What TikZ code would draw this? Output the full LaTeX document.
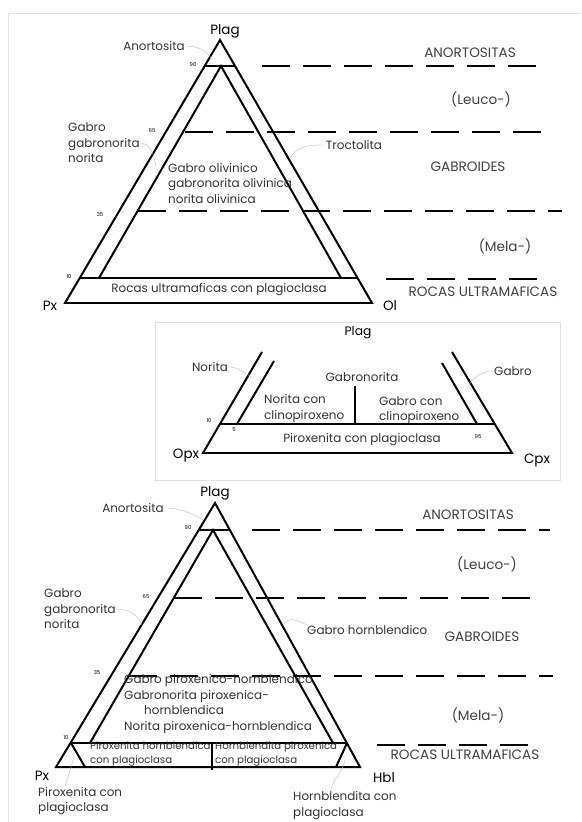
\documentclass[tikz,border=0pt]{standalone}
\usepackage{fontspec}
\setmainfont{Poppins}

\begin{document}
\begin{tikzpicture}[x=0.03cm, y=-0.03cm,
	side/.style={line width=1.7pt, line join=miter},
	limit/.style={line width=1.7pt, dash pattern=on 24pt off 11pt},
	lead/.style={gray!55, line width=0.3pt},
	num/.style={font=\fontsize{4.5}{5}\selectfont, inner sep=0pt},
	lbl/.style={font=\fontsize{10.2}{13.2}\selectfont, inner sep=0pt, align=left, text=black!80},
	band/.style={font=\fontsize{8.7}{12}\selectfont, inner sep=0pt, align=left, text=black!80},
	zone/.style={font=\fontsize{11.6}{13}\selectfont, inner sep=0pt, text=black!75},
	vert/.style={font=\fontsize{11.5}{13}\selectfont, inner sep=0pt},
]
	\useasboundingbox (0,0) rectangle (581,822);
	\draw [gray!20, line width=0.8pt] (581,13) -- (8,13) -- (8,822);

	% Px - Plag - Ol
	\coordinate (plagA) at (220,40);
	\coordinate (pxA) at (65,303);
	\coordinate (olA) at (372,303);
	\draw [side] (pxA) -- (plagA) -- (olA) -- cycle;
	\draw [side] (99,278) -- (221,66) -- (341,278);
	\draw [side] (205,66) -- (235,66);
	\draw [side] (80,278) -- (357,278);
	\draw [limit] (262,66) -- (545,66);
	\draw [limit] (185,132) -- (547,132);
	\draw [limit] (138,211) -- (562,211);
	\draw [limit] (386,279) -- (541,279);
	\node [vert] (plagAl) at (225,31) {Plag};
	\node [vert] (pxAl) at (50,306) {Px};
	\node [vert] (olAl) at (390,306) {Ol};
	\node [num] (n90a) at (193,65) {90};
	\node [num] (n65a) at (152,131) {65};
	\node [num] (n35a) at (100,215) {35};
	\node [num] (n10a) at (69,277) {10};
	\node [lbl] (anorA) at (154,46) {Anortosita};
	\node [lbl, anchor=west] (gabroA) at (68,143) {Gabro\\gabronorita\\norita};
	\node [lbl, anchor=west] (olivA) at (168,183.5) {Gabro olivinico\\gabronorita olivinica\\norita olivinica};
	\node [lbl] (troctA) at (354,145) {Troctolita};
	\node [lbl] (ultraA) at (219,290) {Rocas ultramaficas con plagioclasa};
	\draw [lead] (anorA.east) to[out=0, in=125] (212,59);
	\draw [lead] (gabroA.east) to[out=0, in=100] (156,167);
	\draw [lead] (troctA.west) to[out=180, in=60] (290,158);
	\node [zone] (anortA) at (470,53) {ANORTOSITAS};
	\node [zone] (leucoA) at (481,99) {(Leuco-)};
	\node [zone] (gabroidA) at (468,167) {GABROIDES};
	\node [zone] (melaA) at (505,246) {(Mela-)};
	\node [zone] (ultramA) at (483,292) {ROCAS ULTRAMAFICAS};

	% Opx - Plag - Cpx
	\draw [gray!25, line width=0.6pt] (155,322) rectangle (560,480);
	\coordinate (opxB) at (203,453);
	\coordinate (cpxB) at (512,453);
	\draw [side] (262,352) -- (opxB) -- (cpxB) -- (452,352);
	\draw [side] (237,424) -- (274,361);
	\draw [side] (477,424) -- (442,363);
	\draw [side] (220,424) -- (494,424);
	\draw [side] (355,386) -- (355,424);
	\node [font=\fontsize{10.5}{12}\selectfont, inner sep=0pt] (plagB) at (358,333) {Plag};
	\node [vert] (opxBl) at (186,455) {Opx};
	\node [vert] (cpxBl) at (537,460) {Cpx};
	\node [num] (n10b) at (209,421) {10};
	\node [num] (n5b) at (234,430) {5};
	\node [num] (n95b) at (478,437) {95};
	\node [lbl] (noritaB) at (210,367) {Norita};
	\node [lbl] (gabroB) at (513,371) {Gabro};
	\node [lbl] (gnorB) at (362,377) {Gabronorita};
	\node [lbl, anchor=west] (ncpxB) at (264,408.5) {Norita con\\clinopiroxeno};
	\node [lbl, anchor=west] (gcpxB) at (379,410) {Gabro con\\clinopiroxeno};
	\node [lbl] (pxpB) at (362,440) {Piroxenita con plagioclasa};
	\draw [lead] (noritaB.east) to[out=0, in=150] (253,378);
	\draw [lead] (gabroB.west) to[out=180, in=60] (467,388);

	% Px - Plag - Hbl
	\coordinate (plagC) at (215,503);
	\coordinate (pxC) at (56,767);
	\coordinate (hblC) at (360,767);
	\draw [side] (pxC) -- (plagC) -- (hblC) -- cycle;
	\draw [side] (90,743) -- (213,530) -- (333,743);
	\draw [side] (199,530) -- (230,530);
	\draw [side] (71,743) -- (347,743);
	\draw [side] (71,743) -- (85,767);
	\draw [side] (347,743) -- (336,767);
	\draw [side] (212,743) -- (212,770);
	\draw [limit] (252,530) -- (550,530);
	\draw [limit] (174,598) -- (538,598);
	\draw [limit] (129,676) -- (553,676);
	\draw [limit] (377,745) -- (531,745);
	\node [vert] (plagCl) at (215,493) {Plag};
	\node [vert] (pxCl) at (42,776) {Px};
	\node [vert] (hblCl) at (384,778) {Hbl};
	\node [num] (n90c) at (188,528) {90};
	\node [num] (n65c) at (146,597) {65};
	\node [num] (n35c) at (97,673) {35};
	\node [num] (n10c) at (66,738) {10};
	\node [lbl] (anorC) at (133,508) {Anortosita};
	\node [lbl, anchor=west] (gabroC) at (44,609) {Gabro\\gabronorita\\norita};
	\node [lbl, anchor=west] (ghbC) at (307,630) {Gabro hornblendico};
	\node [lbl, anchor=west] (pxhbC) at (124,704) {Gabro piroxenico-hornblendico\\Gabronorita piroxenica-\\\hspace*{0.6cm}hornblendica\\Norita piroxenica-hornblendica};
	\node [band, anchor=west] (phpC) at (90,754) {Piroxenita hornblendica\\con plagioclasa};
	\node [band, anchor=west] (hppC) at (215,754) {Hornblendita piroxenica\\con plagioclasa};
	\node [lbl, anchor=west] (pxpC) at (38,801) {Piroxenita con\\plagioclasa};
	\node [lbl, anchor=west] (hbpC) at (293,805.5) {Hornblendita con\\plagioclasa};
	\draw [lead] (anorC.east) to[out=0, in=150] (203,520);
	\draw [lead] (gabroC.east) to[out=0, in=110] (142,625);
	\draw [lead] (ghbC.north west) to[out=150, in=60] (284,624);
	\draw [lead] (74,757) to[out=-105, in=75] ([xshift=23pt]pxpC.north west);
	\draw [lead] (345,760) to[out=-100, in=80] ([xshift=32pt]hbpC.north west);
	\node [zone] (anortC) at (468,515) {ANORTOSITAS};
	\node [zone] (leucoC) at (487,564) {(Leuco-)};
	\node [zone] (gabroidC) at (482,637) {GABROIDES};
	\node [zone] (melaC) at (478,715) {(Mela-)};
	\node [zone] (ultramC) at (465,755) {ROCAS ULTRAMAFICAS};
\end{tikzpicture}
\end{document}
